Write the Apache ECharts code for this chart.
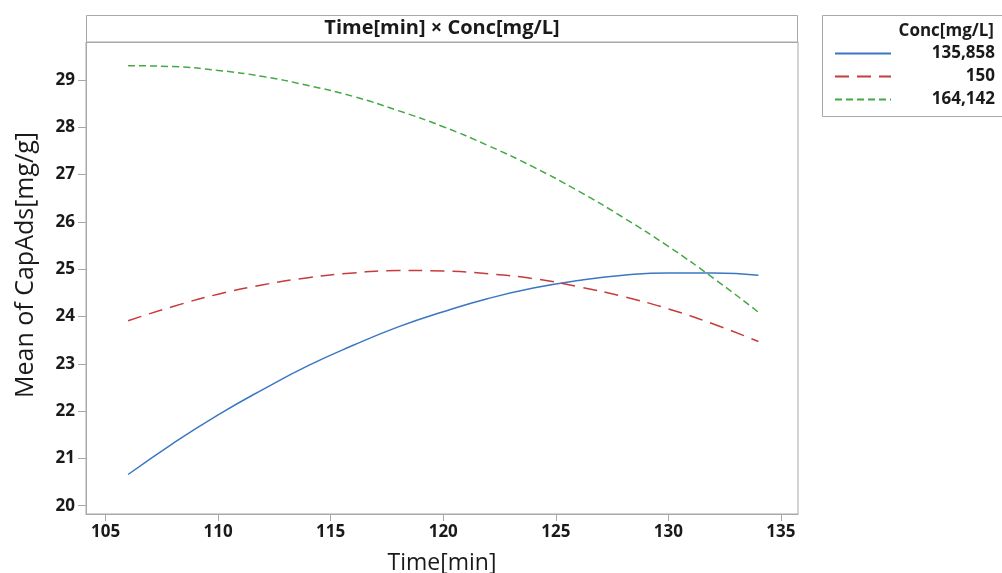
<!DOCTYPE html>
<html>
<head>
<meta charset="utf-8">
<script src="https://cdn.jsdelivr.net/npm/echarts@6/dist/echarts.min.js"></script>
<style>
html,body{margin:0;padding:0;background:#fff;}
#chart{width:1002px;height:573px;}
</style>
</head>
<body>
<div id="chart"></div>
<script>
// Data
const timeMin = [106, 108, 110, 112, 114, 116, 118, 120, 122, 124, 126, 128, 130, 132, 134];
const conc135858 = [20.66, 21.32, 21.92, 22.46, 22.96, 23.39, 23.78, 24.10, 24.38, 24.60, 24.76, 24.87, 24.92, 24.92, 24.87];
const conc150 = [23.91, 24.21, 24.47, 24.67, 24.82, 24.92, 24.97, 24.96, 24.90, 24.80, 24.63, 24.42, 24.16, 23.84, 23.47];
const conc164142 = [29.30, 29.28, 29.20, 29.07, 28.88, 28.65, 28.35, 28.01, 27.61, 27.16, 26.65, 26.09, 25.48, 24.81, 24.09];
const seriesNames = ['135,858', '150', '164,142'];
const xTicks = [105, 110, 115, 120, 125, 130, 135];
const yTicks = [20, 21, 22, 23, 24, 25, 26, 27, 28, 29];

const FONT = '"Open Sans", "Noto Sans", sans-serif';
const GRAYLINE = '#a8a8a8';
const TXT = '#1a1a1a';

function pairs(ys) { return timeMin.map((t, i) => [t, ys[i]]); }

const chart = echarts.init(document.getElementById('chart'), null, {renderer: 'canvas'});
chart.setOption({
  animation: false,
  backgroundColor: '#ffffff',
  textStyle: {fontFamily: FONT},
  grid: {left: 86, right: 204, top: 42, bottom: 59, show: true, borderColor: GRAYLINE, borderWidth: 1,
         containLabel: false, outerBoundsMode: 'none'},
  xAxis: {
    type: 'value', min: 104.13, max: 135.76,
    name: 'Time[min]', nameLocation: 'middle', nameGap: 38,
    nameTextStyle: {fontFamily: FONT, fontSize: 23, color: TXT, fontWeight: 'normal'},
    axisLine: {show: true, lineStyle: {color: GRAYLINE}},
    axisTick: {show: true, length: 7, lineStyle: {color: GRAYLINE}, customValues: xTicks},
    axisLabel: {fontFamily: FONT, fontSize: 17, fontWeight: 'bold', color: TXT, margin: 10, customValues: xTicks},
    splitLine: {show: false}
  },
  yAxis: {
    type: 'value', min: 19.825, max: 29.8,
    axisLine: {show: true, lineStyle: {color: GRAYLINE}},
    axisTick: {show: true, length: 8, lineStyle: {color: GRAYLINE}, customValues: yTicks},
    axisLabel: {fontFamily: FONT, fontSize: 17, fontWeight: 'bold', color: TXT, margin: 11, customValues: yTicks},
    splitLine: {show: false}
  },
  legend: {
    orient: 'vertical', left: 829, top: 40,
    icon: 'inherit',
    itemWidth: 56, itemHeight: 20, itemGap: 6, itemTextGap: 5,
    itemStyle: {opacity: 0},
    data: seriesNames,
    formatter: function (n) { return '{a|' + n + '}'; },
    textStyle: {
      rich: {a: {width: 99, align: 'right', fontFamily: FONT, fontSize: 17, fontWeight: 'bold', color: TXT, lineHeight: 20}}
    }
  },
  series: [
    {name: seriesNames[0], type: 'line', smooth: true, showSymbol: false, symbol: 'none',
     data: pairs(conc135858), lineStyle: {color: '#3b77c2', width: 1.5, type: 'solid'}, itemStyle: {color: '#3b77c2'}},
    {name: seriesNames[1], type: 'line', smooth: true, showSymbol: false, symbol: 'none',
     data: pairs(conc150), lineStyle: {color: '#c73b3b', width: 1.5, type: [14, 8]}, itemStyle: {color: '#c73b3b'}},
    {name: seriesNames[2], type: 'line', smooth: true, showSymbol: false, symbol: 'none',
     data: pairs(conc164142), lineStyle: {color: '#45a845', width: 1.5, type: [7, 4]}, itemStyle: {color: '#45a845'}}
  ],
  graphic: [
    {type: 'rect', shape: {x: 86.5, y: 15.5, width: 711, height: 27}, style: {fill: 'none', stroke: GRAYLINE, lineWidth: 1}, silent: true},
    {type: 'text', x: 442, y: 28.5, style: {text: 'Time[min] × Conc[mg/L]', fontFamily: FONT, fontSize: 20, fontWeight: 'bold', fill: TXT, align: 'center', verticalAlign: 'middle'}},
    {type: 'rect', shape: {x: 822.5, y: 15.5, width: 200, height: 101}, style: {fill: 'none', stroke: GRAYLINE, lineWidth: 1}, silent: true},
    {type: 'text', x: 994, y: 31, style: {text: 'Conc[mg/L]', fontFamily: FONT, fontSize: 17, fontWeight: 'bold', fill: TXT, align: 'right', verticalAlign: 'middle'}},
    {type: 'text', x: 26, y: 265, rotation: Math.PI / 2, style: {text: 'Mean of CapAds[mg/g]', fontFamily: FONT, fontSize: 25, fontWeight: 'normal', fill: TXT, align: 'center', verticalAlign: 'middle'}}
  ]
});
</script>
</body>
</html>
